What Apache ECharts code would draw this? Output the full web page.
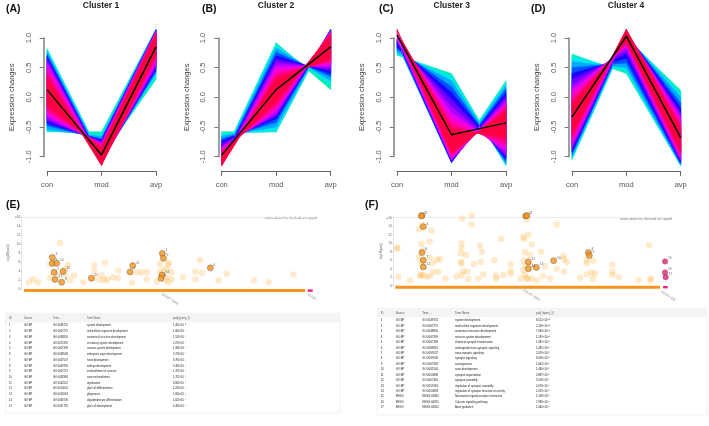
<!DOCTYPE html>
<html><head><meta charset="utf-8">
<style>html,body{margin:0;padding:0;background:#fff}#c{width:709px;height:426px;filter:blur(.4px)}</style>
<script src="https://cdn.jsdelivr.net/npm/echarts@6/dist/echarts.min.js"></script>
</head><body><div id="c"></div>
<script>
const conditions=['con','mod','avp'];
const yTicks=[-1,-0.5,0,0.5,1];
const levelColors=['#00f0a8','#00e8e8','#00a8ff','#0050ff','#2000ff','#7000ff','#b000ff','#e800f0','#ff00c0','#ff0090','#ff0060','#ff0040'];

// fan edges for each membership level, outer to inner: one profile per level
const c1ConA=[.82,.81,.77,.72,.69,.65,.61,.56,.50,.44,.38,.32];
const c1ModA=[-1.0,-1.02,-1.04,-1.06,-1.08,-1.09,-1.10,-1.11,-1.12,-1.13,-1.14,-1.15];
const c1AvpA=[.30,.34,.40,.44,.47,.50,.54,.58,.62,.66,.70,.74];
const c1ConB=[-.58,-.57,-.54,-.48,-.44,-.40,-.36,-.32,-.27,-.22,-.17,-.12];
const c1ModB=[-.58,-.62,-.66,-.70,-.72,-.74,-.76,-.78,-.80,-.82,-.84,-.86];
const c1AvpB=[1.15,1.15,1.14,1.14,1.13,1.13,1.12,1.11,1.10,1.09,1.07,1.05];
const c1Mean=[.13,-.97,.85];

const c2ConA=[-1.02,-1.04,-1.06,-1.08,-1.10,-1.11,-1.12,-1.13,-1.14,-1.15,-1.15,-1.15];
const c2ModA=[.92,.89,.83,.76,.70,.64,.58,.52,.46,.40,.35,.30];
const c2AvpA=[.13,.20,.28,.35,.40,.45,.49,.53,.57,.60,.63,.66];
const c2ConB=[-.58,-.61,-.65,-.70,-.74,-.78,-.82,-.85,-.88,-.91,-.94,-.96];
const c2ModB=[-.58,-.58,-.50,-.42,-.36,-.32,-.28,-.24,-.20,-.15,-.10,-.05];
const c2AvpB=[1.15,1.15,1.15,1.14,1.14,1.13,1.12,1.11,1.10,1.09,1.07,1.05];
const c2Mean=[-.97,.13,.85];

const c3ConA=[.90,.91,.92,.94,.96,.98,1.0,1.03,1.06,1.09,1.12,1.15];
const c3ModA=[-1.08,-1.10,-1.10,-1.10,-1.09,-1.08,-1.06,-1.04,-1.01,-.98,-.95,-.92];
const c3AvpA=[.28,.26,.20,.14,.08,.02,-.04,-.08,-.12,-.16,-.20,-.24];
const c3ConB=[.71,.73,.76,.81,.85,.90,.95,1.0,1.04,1.07,1.10,1.12];
const c3ModB=[.40,.36,.28,.18,.08,-.04,-.16,-.26,-.36,-.44,-.50,-.55];
const c3AvpB=[-1.15,-1.14,-1.12,-1.08,-1.04,-1.0,-.96,-.90,-.84,-.78,-.72,-.66];
const c3Mean=[1.05,-.63,-.43];

const c4ConA=[-1.05,-1.04,-1.0,-.96,-.92,-.88,-.84,-.80,-.75,-.70,-.65,-.60];
const c4ModA=[1.0,1.02,1.04,1.06,1.08,1.09,1.10,1.11,1.12,1.13,1.14,1.15];
const c4AvpA=[.12,.08,.0,-.10,-.18,-.25,-.30,-.35,-.40,-.45,-.50,-.55];
const c4ConB=[.73,.70,.60,.50,.40,.30,.20,.12,.05,-.02,-.08,-.12];
const c4ModB=[.40,.44,.50,.58,.66,.74,.80,.85,.88,.90,.92,.94];
const c4AvpB=[-1.15,-1.15,-1.14,-1.12,-1.10,-1.08,-1.06,-1.03,-1.0,-.97,-.93,-.90];
const c4Mean=[-.33,1.03,-.68];

// Manhattan plots: [term position, -log10(padj), id]
const eSignificant=[[157,7.0,'3'],[157,5.7,'9'],[170,5.7,'10'],[162,3.7,'2'],[189,3.9,'12'],[165,2.1,'13'],[185,1.5,'8'],[274,2.4,'15'],[390,3.8,'7'],[398,5.2,'11'],[487,7.9,'1'],[490,6.8,'5'],[486,3.1,'14'],[483,2.4,'6'],[631,4.7,'4']];
const eBackground=[[180,10.2],[87,1.5],[100,2.2],[113,1.5],[150,5.5],[204,5.4],[197,4.5],[150,2.5],[170,3.1],[195,3.1],[210,2],[222,3],[250,1.5],[283,5.2],[283,4],[315,5.9],[283,2.4],[305,3.1],[300,2],[313,2],[322,2.1],[338,2.6],[354,2.4],[355,4.1],[396,1.4],[410,3.7],[425,3.7],[440,3.7],[440,2.1],[470,1.6],[480,5.5],[505,5.9],[500,4.4],[515,3.7],[480,3.7],[490,4.2],[515,2.1],[505,1.5],[500,2.7],[548,2.6],[586,3.9],[586,2.1],[600,6.5],[606,3.6],[656,1.9],[680,3.4],[762,1.9],[806,1.5],[880,3.2],[495,2],[505,5.4]];
const fSignificant=[[186,16.5,'2'],[184,16.4,'5'],[190,13.9,'4'],[186,7.8,'6'],[190,6,'7'],[190,4.4,'12'],[497,16.4,'1'],[501,16.5,'3'],[505,5.6,'11'],[505,4,'14'],[529,4.3,'13'],[581,5.9,'10'],[685,7.8,'8'],[688,7.1,'9']];
const fKegg=[[915,5.7,'15'],[915,3.1,'16'],[917,2,'17']];
const fBackground=[[112,9],[112,8.7],[115,2.1],[150,1.3],[177,13.3],[186,14.3],[214,13],[209,10.4],[184,9.9],[190,8.4],[176,6.7],[183,5.3],[210,6.6],[218,5.3],[230,6.1],[240,6.2],[235,3.3],[220,3.2],[183,2.5],[190,2.5],[180,2.3],[210,2.3],[200,2.1],[256,1.7],[290,2.2],[306,15.8],[334,16.5],[334,14.4],[305,10],[305,8.8],[303,7.6],[318,7.2],[303,5.6],[305,5.2],[310,3.4],[305,2.5],[322,3.3],[325,1.6],[342,5.1],[360,9.4],[366,8],[362,5.6],[355,1.7],[370,2.7],[403,6],[408,2.4],[408,1.7],[430,2.5],[423,11],[452,5.1],[452,3.5],[452,2.8],[490,11.5],[505,12],[492,11],[515,9.7],[500,15.5],[495,7.9],[510,7.2],[543,8],[492,6],[495,4.9],[515,4.5],[490,3.7],[495,2.5],[482,1.7],[500,1.7],[515,1.7],[530,1.3],[548,2.3],[555,4.6],[570,1.7],[590,14.4],[590,4],[610,7],[612,6.3],[620,5.6],[612,3.3],[660,1.9],[680,2.7],[695,3.1],[705,2.9],[698,1.6],[680,6],[680,5.3],[700,5.8],[757,5],[757,3.3],[757,2.5],[776,2],[836,1.3],[868,9.6],[872,1.7],[872,1.3],[503,1.7]];
const eSpans=[[72,915],[923,938]];
const fSpans=[[106,900],[909,923]];
const eSourceLabels=[[510,-2.2,'GO:BP (195)'],[935,-1.7,'KEGG']];
const fSourceLabels=[[515,-2.2,'GO:BP (195)'],[925,-2.4,'KEGG (11)']];
const mTicks=[0,2,4,6,8,10,12,14,16];

// result tables
const tableHeader=['ID','Source','Term ...','Term Name','padj (query_1)'];
const eTermIds=['GO:0048731','GO:0007275','GO:0048856','GO:0072359','GO:0007399','GO:0048568','GO:0007507','GO:0009790','GO:0007272','GO:0008366','GO:0042552','GO:0010001','GO:0042063','GO:0048709','GO:0021782'];
const eTermNames=['system development','multicellular organism development','anatomical structure development','circulatory system development','nervous system development','embryonic organ development','heart development','embryo development','ensheathment of neurons','axon ensheathment','myelination','glial cell differentiation','gliogenesis','oligodendrocyte differentiation','glial cell development'];
const ePvals=['1.405×10⁻⁸','1.080×10⁻⁷','1.533×10⁻⁷','2.470×10⁻⁵','1.986×10⁻⁵','3.749×10⁻⁵','9.784×10⁻³','3.480×10⁻³','1.782×10⁻⁴','1.782×10⁻⁴','8.063×10⁻⁴','1.230×10⁻³','1.680×10⁻³','5.020×10⁻⁴','4.480×10⁻²'];
const eSources=eTermIds.map(()=>'GO:BP');
const fTermIds=['GO:0048731','GO:0007275','GO:0048856','GO:0007399','GO:0007268','GO:0098916','GO:0099537','GO:0099536','GO:0007409','GO:0061564','GO:0050808','GO:0007416','GO:0051963','GO:0050803','KEGG:04080','KEGG:04020','KEGG:04360'];
const fTermNames=['system development','multicellular organism development','anatomical structure development','nervous system development','chemical synaptic transmission','anterograde trans-synaptic signaling','trans-synaptic signaling','synaptic signaling','axonogenesis','axon development','synapse organization','synapse assembly','regulation of synapse assembly','regulation of synapse structure or activity','Neuroactive ligand-receptor interaction','Calcium signaling pathway','Axon guidance'];
const fPvals=['8.521×10⁻¹⁰','2.149×10⁻¹⁰','7.060×10⁻¹⁰','1.149×10⁻¹⁰','1.481×10⁻⁸','1.481×10⁻⁸','2.076×10⁻⁸','8.030×10⁻⁸','1.061×10⁻⁶','1.460×10⁻⁶','2.887×10⁻⁶','3.518×10⁻⁵','4.076×10⁻⁵','1.091×10⁻⁴','1.558×10⁻⁶','7.980×10⁻⁴','1.040×10⁻²'];
const fSources=fTermIds.map(t=>t.startsWith('GO')?'GO:BP':'KEGG');

const FONT='"Liberation Sans",Arial,sans-serif';
const clusters=[
 {t:'Cluster 1',l:'(A)',lx:6,x0:47,x1:156,ax:43.7,tx:101,con:[c1ConA,c1ConB],mod:[c1ModA,c1ModB],avp:[c1AvpA,c1AvpB],mean:c1Mean},
 {t:'Cluster 2',l:'(B)',lx:202,x0:221.7,x1:330.7,ax:218.3,tx:276,con:[c2ConA,c2ConB],mod:[c2ModA,c2ModB],avp:[c2AvpA,c2AvpB],mean:c2Mean},
 {t:'Cluster 3',l:'(C)',lx:379,x0:397,x1:506,ax:393.7,tx:451.7,con:[c3ConA,c3ConB],mod:[c3ModA,c3ModB],avp:[c3AvpA,c3AvpB],mean:c3Mean},
 {t:'Cluster 4',l:'(D)',lx:531,x0:572,x1:680.7,ax:568.7,tx:626,con:[c4ConA,c4ConB],mod:[c4ModA,c4ModB],avp:[c4AvpA,c4AvpB],mean:c4Mean}];

const grid=[],xAxis=[],yAxis=[],series=[],title=[],graphic=[];
clusters.forEach((c,i)=>{
 grid.push({left:c.x0,width:c.x1-c.x0,top:38,height:118.7});
 xAxis.push({gridIndex:i,type:'category',data:conditions,boundaryGap:false,offset:14.6,
  axisLine:{onZero:false,lineStyle:{color:'#666',width:1}},axisTick:{show:true,length:4.5,alignWithLabel:true,lineStyle:{color:'#666',width:1}},
  axisLabel:{color:'#555',fontSize:7.5,fontFamily:FONT,margin:10,interval:0,hideOverlap:false}});
 yAxis.push({gridIndex:i,type:'value',min:-1,max:1,interval:.5,offset:3.3,name:'Expression changes',nameLocation:'middle',nameRotate:90,nameGap:27.5,
  nameTextStyle:{color:'#444',fontSize:7.5,fontFamily:FONT},
  axisLine:{show:true,lineStyle:{color:'#888',width:1.6}},axisTick:{show:true,length:4,lineStyle:{color:'#777',width:1}},splitLine:{show:false},
  axisLabel:{color:'#555',fontSize:7.5,fontFamily:FONT,rotate:90,margin:11,formatter:v=>v.toFixed(1),customValues:yTicks,hideOverlap:false}});
 const rows=[];
 levelColors.forEach((col,k)=>{
  rows.push([0,c.con[0][k],c.con[1][k],1,c.mod[0][k],c.mod[1][k],k]);
  rows.push([1,c.mod[0][k],c.mod[1][k],2,c.avp[0][k],c.avp[1][k],k]);
 });
 series.push({type:'custom',xAxisIndex:i,yAxisIndex:i,silent:true,clip:false,data:rows,encode:{x:[0,3],y:[1,2,4,5]},
  renderItem:(p,api)=>{
   const col=levelColors[api.value(6)];
   const pts=[api.coord([api.value(0),api.value(1)]),api.coord([api.value(3),api.value(4)]),api.coord([api.value(3),api.value(5)]),api.coord([api.value(0),api.value(2)])];
   return {type:'polygon',shape:{points:pts},style:{fill:col,stroke:col,lineWidth:.5}};
  }});
 series.push({type:'line',xAxisIndex:i,yAxisIndex:i,data:c.mean,symbol:'none',silent:true,clip:false,z:5,lineStyle:{color:'#000',width:1.5}});
 title.push({text:c.t,left:c.tx,top:1,padding:0,textAlign:'center',textStyle:{fontFamily:FONT,fontSize:8.5,fontWeight:'bold',color:'#222'}});
 title.push({text:c.l,left:c.lx,top:4,padding:0,textStyle:{fontFamily:FONT,fontSize:10.5,fontWeight:'bold',color:'#111'}});
});

function manhattan(idx,g,xr,bg,sig,kegg,spans,srcLabels,letter,lx,ly,axisNameX){
 grid.push({left:g.left,width:g.width,top:g.top,height:g.height});
 xAxis.push({gridIndex:idx,type:'value',min:xr[0],max:xr[1],show:false});
 yAxis.push({gridIndex:idx,type:'value',min:0,max:16,interval:2,name:'-log10(padj)',nameLocation:'middle',nameRotate:90,nameGap:g.left-axisNameX,
  nameTextStyle:{color:'#666',fontSize:3.2,fontFamily:FONT},
  axisLine:{show:true,lineStyle:{color:'#ccc',width:.5}},axisTick:{show:true,length:1.5,lineStyle:{color:'#bbb',width:.5}},
  splitLine:{show:true,lineStyle:{color:mTicks.map(v=>v===16?'#e6e6e6':'rgba(0,0,0,0)'),width:.7}},
  axisLabel:{color:'#666',fontSize:3.2,fontFamily:FONT,margin:1.5,formatter:v=>v===16?'≥16':String(v),hideOverlap:false}});
 const ax={xAxisIndex:idx,yAxisIndex:idx,silent:true,clip:false};
 series.push({...ax,type:'scatter',data:bg,symbolSize:6.5,itemStyle:{color:'#ff9900',opacity:.2},z:2});
 const lab={show:true,position:'right',distance:0,offset:[0,-3],fontSize:3.4,fontFamily:FONT,color:'#444',formatter:p=>p.value[2]};
 series.push({...ax,type:'scatter',data:sig,symbolSize:6,itemStyle:{color:'#f7941d',borderColor:'#5a4a30',borderWidth:.5},label:lab,z:3});
 if(kegg.length) series.push({...ax,type:'scatter',data:kegg,symbolSize:5.5,itemStyle:{color:'#dd2277',borderColor:'#7a3a50',borderWidth:.4},label:lab,z:3});
 series.push({...ax,type:'line',data:[[spans[0][0],-.35],[spans[0][1],-.35]],symbol:'none',lineStyle:{color:'#f7941d',width:3,cap:'butt'},z:2});
 series.push({...ax,type:'line',data:[[spans[1][0],-.35],[spans[1][1],-.35]],symbol:'none',lineStyle:{color:'#ee2277',width:2.4,cap:'butt'},z:2});
 series.push({...ax,type:'scatter',data:srcLabels,symbolSize:0,label:{show:true,position:'inside',rotate:-32,fontSize:3.3,fontFamily:FONT,color:'#666',formatter:p=>p.value[2]},z:2});
 title.push({text:letter,left:lx,top:ly,padding:0,textStyle:{fontFamily:FONT,fontSize:10.5,fontWeight:'bold',color:'#111'}});
 graphic.push({type:'text',right:709-xr[2],top:g.top,style:{text:'values above this threshold are capped',font:'3px '+FONT,fill:'#777'},silent:true});
}
manhattan(4,{left:21.7,width:295,top:217,height:72},[65,950,317],eBackground,eSignificant,[],eSpans,eSourceLabels,'(E)',6,200,10);
manhattan(5,{left:393.3,width:278.4,top:217.7,height:68},[100,935,672],fBackground,fSignificant,fKegg,fSpans,fSourceLabels,'(F)',365,200,384);

function table(box,headH,cols,rowY0,rowStep,columns,size){
 graphic.push({type:'rect',shape:{x:box[0],y:box[1],width:box[2],height:box[3]},style:{fill:'#fff',stroke:'#e6e6e6',lineWidth:.6},silent:true});
 graphic.push({type:'rect',shape:{x:box[0],y:box[1],width:box[2],height:headH},style:{fill:'#f4f4f4'},silent:true});
 cols.forEach((x,i)=>{
  graphic.push({type:'text',x,y:box[1]+headH/2,style:{text:tableHeader[i],font:size+'px '+FONT,fill:'#555',verticalAlign:'middle'},silent:true});
  columns[i].forEach((s,r)=>graphic.push({type:'text',x,y:rowY0+r*rowStep,style:{text:s,font:size+'px '+FONT,fill:'#222',verticalAlign:'middle'},silent:true}));
 });
}
const ids=n=>Array.from({length:n},(_,i)=>String(i+1));
table([5.7,313.3,334.3,99.7],9,[9,24,53,87,173],325.7,5.73,[ids(15),eSources,eTermIds,eTermNames,ePvals],2.6);
table([377.3,308.3,329.4,106.7],9,[380.7,395.7,422.3,455,536],320.7,5.42,[ids(17),fSources,fTermIds,fTermNames,fPvals],2.75);

const chart=echarts.init(document.getElementById('c'),null,{renderer:'canvas',width:709,height:426});
chart.setOption({animation:false,backgroundColor:'#fff',title,grid,xAxis,yAxis,series,graphic});
</script></body></html>
